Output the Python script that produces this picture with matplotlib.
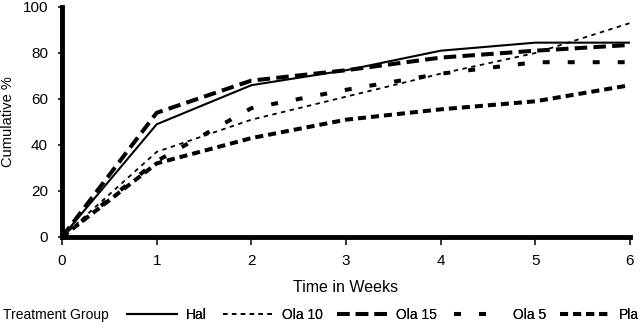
import matplotlib
matplotlib.use("Agg")
import matplotlib.pyplot as plt

plt.rcParams["font.family"] = ["Liberation Sans", "DejaVu Sans"]
plt.rcParams["lines.scale_dashes"] = False

weeks = [0, 1, 2, 3, 4, 5, 6]
hal = [0, 49, 66, 72.5, 81, 84.5, 84.5]
ola10 = [0, 37, 51, 61, 71, 80, 93]
ola15 = [0, 54, 68, 72.5, 78, 81, 83.5]
ola5 = [0, 33, 56, 64, 71, 76, 76]
pla = [0, 32, 43, 51, 55.5, 59, 66]

series = [
    ("Hal", hal, 1.5, "-"),
    ("Ola 10", ola10, 1.3, (0, (3.2, 3.2))),
    ("Ola 15", ola15, 2.9, (0, (9, 4.5))),
    ("Ola 5", ola5, 2.9, (0, (5, 13))),
    ("Pla", pla, 2.9, (0, (5.8, 3.6))),
]
# left edge of each legend entry (figure px)
legend_x = [127, 223, 337, 454, 560]

fig = plt.figure(figsize=(6.4, 3.31), dpi=100)
ax = fig.add_axes([62 / 640, 94 / 331, 568 / 640, 230 / 331])

lines = []
for name, vals, lw, ls in series:
    (ln,) = ax.plot(weeks, vals, color="black", lw=lw, ls=ls, label=name)
    lines.append(ln)

ax.set_xlim(0, 6)
ax.set_ylim(0, 100)
ax.set_xticks(weeks)
ax.set_yticks([0, 20, 40, 60, 80, 100])
ax.spines["top"].set_visible(False)
ax.spines["right"].set_visible(False)
ax.spines["left"].set_linewidth(3.5)
ax.spines["bottom"].set_linewidth(3.5)
ax.tick_params(axis="x", direction="out", length=6, width=1.1, pad=6, labelsize=11)
ax.tick_params(axis="y", direction="out", length=3, width=1.1, pad=7, labelsize=11)

ax.set_xlabel("Time in Weeks", fontsize=11.5, labelpad=9)
ax.set_ylabel("Cumulative %", fontsize=10.5)
ax.yaxis.set_label_coords(-0.083, 0.5)

fig.text(3 / 640, 0.048, "Treatment Group", fontsize=10, va="center", ha="left")
for ln, x in zip(lines, legend_x):
    leg = fig.legend(handles=[ln], loc="center left", bbox_to_anchor=(x / 640, 0.048),
                     frameon=False, fontsize=10, handlelength=3.6, handletextpad=0.65,
                     borderaxespad=0, borderpad=0)
    fig.add_artist(leg)

fig.savefig("out.png", dpi=100)
